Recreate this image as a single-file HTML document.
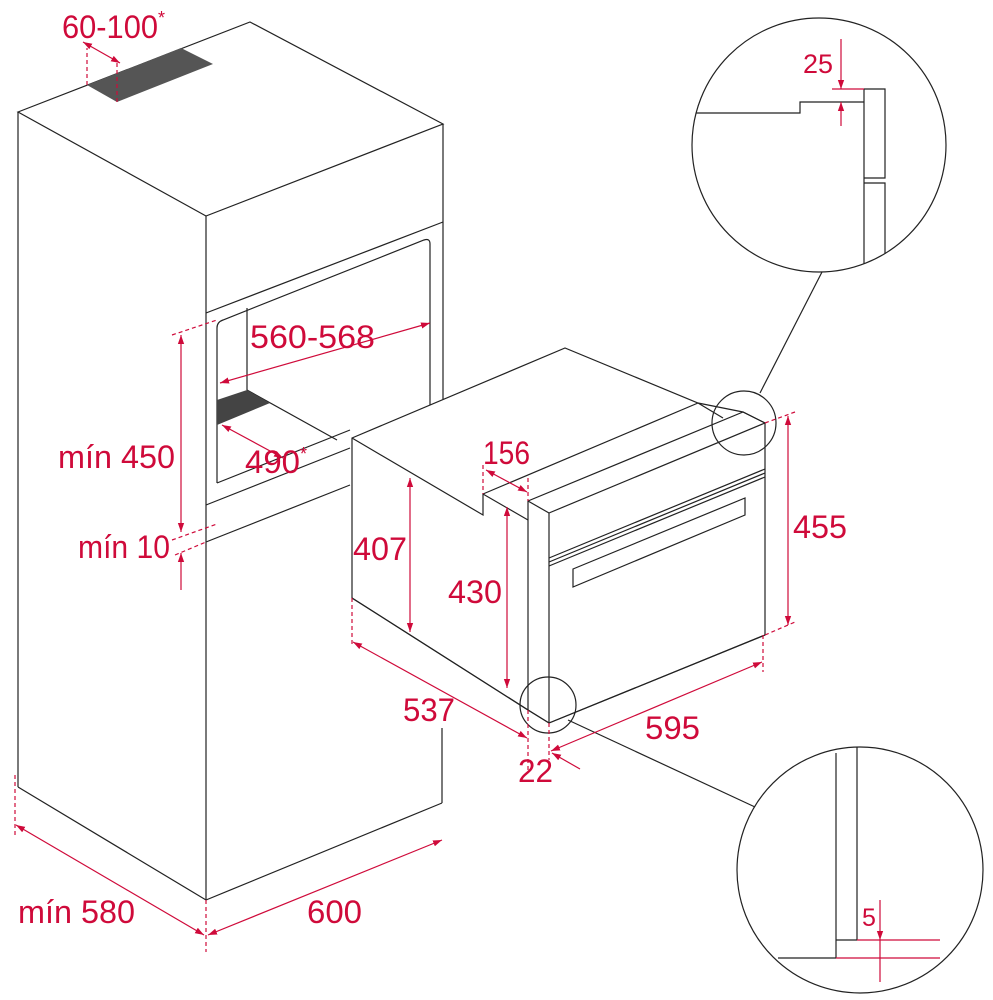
<!DOCTYPE html>
<html><head><meta charset="utf-8"><style>
html,body{margin:0;padding:0;background:#fff;}
svg{display:block}
text{font-family:"Liberation Sans",sans-serif;fill:#cf0a3a;}
</style></head><body>
<svg width="993" height="1000" viewBox="0 0 993 1000" xmlns="http://www.w3.org/2000/svg">
<defs>
<marker id="a" viewBox="0 0 10 10" refX="10" refY="5" markerWidth="9" markerHeight="9" orient="auto-start-reverse" markerUnits="userSpaceOnUse"><path d="M0,1.5 L10,5 L0,8.5z" fill="#cf0a3a"/></marker>
</defs>
<g fill="none" stroke="#222" stroke-width="1.2">
<polygon points="18,112 250,22 443,124 206,216" fill="#fff"/>
<polygon points="87,85 181,48 213,64 117,102" fill="#555" stroke="none"/>
<line x1="18" y1="112" x2="18" y2="787"/>
<line x1="206" y1="216" x2="206" y2="900"/>
<line x1="443" y1="124" x2="443" y2="420"/>
<line x1="442" y1="728" x2="442" y2="803"/>
<polyline points="18,787 206,900 442,803"/>
<line x1="206" y1="313" x2="443" y2="222"/>
<path d="M217,483 L217,328 Q217,322 223,320 L424,240 Q430,238 430,244 L430,420"/>
<line x1="217" y1="483" x2="350" y2="430"/>
<line x1="247" y1="308" x2="247" y2="390"/>
<line x1="247" y1="390" x2="337" y2="440"/>
<polygon points="217,400 247,390 270,403 217,425" fill="#444" stroke="none"/>
<line x1="206" y1="505" x2="350" y2="448"/>
<line x1="206" y1="542" x2="350" y2="485"/>
<polygon points="352,438 565,348 698,403 743,412 765,423 765,635 549,723 528,710 352,598" fill="#fff"/>
<polyline points="352,438 483,515 483,494 528,520"/>
<line x1="483" y1="494" x2="698" y2="403"/>
<line x1="698" y1="403" x2="723" y2="418"/>
<polyline points="528,710 528,501 743,412 765,423"/>
<line x1="528" y1="501" x2="549" y2="513"/>
<line x1="549" y1="513" x2="765" y2="423"/>
<line x1="549" y1="513" x2="549" y2="723"/>
<polyline points="352,598 528,710 549,723 765,635"/>
<line x1="549" y1="558" x2="765" y2="469"/>
<line x1="549" y1="562" x2="765" y2="473"/>
<line x1="549" y1="566" x2="765" y2="477"/>
<polygon points="573,569 745,498 745,515 573,587"/>
<circle cx="744" cy="423" r="32"/>
<line x1="760" y1="393" x2="822" y2="272"/>
<circle cx="819" cy="145" r="127"/>
<circle cx="548" cy="705" r="28"/>
<line x1="568" y1="720" x2="755" y2="807"/>
<circle cx="860" cy="870" r="123"/>
<polyline points="696,113 800,113 800,102 864,102"/>
<polyline points="864,89 885,89 885,178 864,178"/>
<polyline points="885,254 885,183 864,183"/>
<line x1="864" y1="89" x2="864" y2="264"/>
<line x1="836" y1="753" x2="836" y2="958"/>
<line x1="857" y1="747" x2="857" y2="940"/>
<line x1="836" y1="940" x2="857" y2="940"/>
<line x1="778" y1="958" x2="836" y2="958"/>
</g>
<g stroke="#cf0a3a" stroke-width="1.2" fill="none">
<g stroke-dasharray="4,3">
<line x1="87" y1="85" x2="87" y2="48"/>
<line x1="117" y1="102" x2="117" y2="62"/>
<line x1="172" y1="335" x2="217" y2="320"/>
<line x1="172" y1="540" x2="217" y2="524"/>
<line x1="175" y1="555" x2="206" y2="542"/>
<line x1="483" y1="465" x2="483" y2="494"/>
<line x1="528" y1="478" x2="528" y2="501"/>
<line x1="765" y1="423" x2="795" y2="412"/>
<line x1="765" y1="635" x2="795" y2="622"/>
<line x1="352" y1="598" x2="352" y2="647"/>
<line x1="528" y1="710" x2="528" y2="770"/>
<line x1="549" y1="723" x2="549" y2="760"/>
<line x1="763" y1="635" x2="763" y2="672"/>
<line x1="15" y1="775" x2="15" y2="835"/>
<line x1="206" y1="900" x2="206" y2="952"/>
</g>
<line x1="83" y1="42" x2="120" y2="63" marker-start="url(#a)" marker-end="url(#a)"/>
<line x1="181" y1="335" x2="181" y2="532" marker-start="url(#a)" marker-end="url(#a)"/>
<line x1="181" y1="590" x2="181" y2="553" marker-end="url(#a)"/>
<line x1="220" y1="383" x2="430" y2="323" marker-start="url(#a)" marker-end="url(#a)"/>
<line x1="222" y1="425" x2="283" y2="458" marker-start="url(#a)" marker-end="url(#a)"/>
<line x1="410" y1="478" x2="410" y2="632" marker-start="url(#a)" marker-end="url(#a)"/>
<line x1="507" y1="507" x2="507" y2="688" marker-start="url(#a)" marker-end="url(#a)"/>
<line x1="486" y1="470" x2="527" y2="492" marker-start="url(#a)" marker-end="url(#a)"/>
<line x1="788" y1="416" x2="788" y2="625" marker-start="url(#a)" marker-end="url(#a)"/>
<line x1="353" y1="642" x2="527" y2="738" marker-start="url(#a)" marker-end="url(#a)"/>
<line x1="551" y1="751" x2="762" y2="662" marker-start="url(#a)" marker-end="url(#a)"/>
<line x1="580" y1="769" x2="552" y2="753" marker-end="url(#a)"/>
<line x1="16" y1="825" x2="204" y2="935" marker-start="url(#a)" marker-end="url(#a)"/>
<line x1="208" y1="935" x2="442" y2="840" marker-start="url(#a)" marker-end="url(#a)"/>
<line x1="832" y1="89" x2="864" y2="89"/>
<line x1="841" y1="39" x2="841" y2="89" marker-end="url(#a)"/>
<line x1="841" y1="126" x2="841" y2="102" marker-end="url(#a)"/>
<line x1="857" y1="940" x2="940" y2="940"/>
<line x1="836" y1="958" x2="940" y2="958"/>
<line x1="880" y1="900" x2="880" y2="940" marker-end="url(#a)"/>
<line x1="880" y1="940" x2="880" y2="982"/>
</g>
<g font-size="32">
<text x="62" y="38" textLength="96" lengthAdjust="spacingAndGlyphs">60-100</text><text x="158" y="24" font-size="18">*</text>
<text x="250" y="348" textLength="125" lengthAdjust="spacingAndGlyphs">560-568</text>
<text x="58" y="468" textLength="117" lengthAdjust="spacingAndGlyphs">mín 450</text>
<text x="245" y="473" textLength="55" lengthAdjust="spacingAndGlyphs">490</text><text x="300" y="460" font-size="18">*</text>
<text x="78" y="558" textLength="92" lengthAdjust="spacingAndGlyphs">mín 10</text>
<text x="483" y="464" textLength="47" lengthAdjust="spacingAndGlyphs">156</text>
<text x="353" y="560" textLength="54" lengthAdjust="spacingAndGlyphs">407</text>
<text x="448" y="603" textLength="54" lengthAdjust="spacingAndGlyphs">430</text>
<text x="793" y="538" textLength="54" lengthAdjust="spacingAndGlyphs">455</text>
<text x="403" y="721" textLength="52" lengthAdjust="spacingAndGlyphs">537</text>
<text x="645" y="739" textLength="55" lengthAdjust="spacingAndGlyphs">595</text>
<text x="518" y="782" textLength="35" lengthAdjust="spacingAndGlyphs">22</text>
<text x="18" y="923" textLength="117" lengthAdjust="spacingAndGlyphs">mín 580</text>
<text x="307" y="923" textLength="55" lengthAdjust="spacingAndGlyphs">600</text>
<text x="803" y="73" font-size="27" textLength="30" lengthAdjust="spacingAndGlyphs">25</text>
<text x="862" y="926" font-size="25">5</text>
</g>
</svg>
</body></html>
